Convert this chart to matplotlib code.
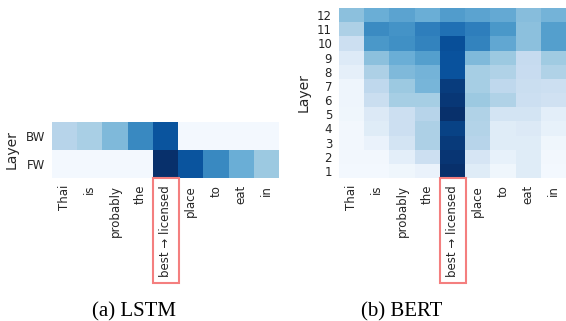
import numpy as np
import matplotlib.pyplot as plt

words = ['Thai', 'is', 'probably', 'the', 'best \u2192 licensed', 'place', 'to', 'eat', 'in']
lstm_rows = ['BW', 'FW']
lstm_vals = [
    [0.30, 0.34, 0.45, 0.66, 0.86, 0.02, 0.02, 0.02, 0.02],
    [0.02, 0.02, 0.02, 0.02, 1.00, 0.86, 0.66, 0.50, 0.38],
]
bert_rows = ['12', '11', '10', '9', '8', '7', '6', '5', '4', '3', '2', '1']
bert_vals = [
    [0.42, 0.50, 0.55, 0.50, 0.58, 0.55, 0.52, 0.43, 0.48],
    [0.33, 0.65, 0.62, 0.70, 0.75, 0.70, 0.60, 0.42, 0.57],
    [0.22, 0.60, 0.63, 0.68, 0.88, 0.68, 0.53, 0.42, 0.57],
    [0.13, 0.42, 0.50, 0.57, 0.87, 0.45, 0.38, 0.25, 0.37],
    [0.09, 0.33, 0.45, 0.48, 0.87, 0.35, 0.32, 0.24, 0.32],
    [0.05, 0.27, 0.38, 0.47, 0.95, 0.35, 0.27, 0.23, 0.22],
    [0.05, 0.23, 0.35, 0.35, 0.97, 0.38, 0.32, 0.22, 0.20],
    [0.04, 0.14, 0.22, 0.30, 1.00, 0.32, 0.18, 0.18, 0.10],
    [0.03, 0.12, 0.22, 0.33, 0.93, 0.31, 0.12, 0.14, 0.08],
    [0.03, 0.07, 0.18, 0.33, 0.96, 0.30, 0.12, 0.12, 0.04],
    [0.03, 0.03, 0.10, 0.22, 0.98, 0.17, 0.08, 0.12, 0.03],
    [0.02, 0.02, 0.04, 0.07, 1.00, 0.12, 0.04, 0.12, 0.02],
]
highlight = 4

fig = plt.figure(figsize=(5.66, 3.21), dpi=100)
ax1 = fig.add_axes([0.0919, 0.4455, 0.4011, 0.1745])
ax2 = fig.add_axes([0.599, 0.4455, 0.401, 0.5295])

def heat(ax, vals, rows):
    vals = np.array(vals)
    ax.pcolormesh(vals, cmap='Blues', vmin=0, vmax=1)
    ax.set_xlim(0, vals.shape[1])
    ax.set_ylim(vals.shape[0], 0)
    ax.set_xticks(np.arange(vals.shape[1]) + 0.5)
    ax.set_xticklabels(words, rotation=90, fontsize=8.5, color='#262626')
    ax.set_yticks(np.arange(vals.shape[0]) + 0.5)
    ax.set_yticklabels(rows, fontsize=8.5, color='#262626')
    ax.tick_params(length=0, pad=5)
    for s in ax.spines.values():
        s.set_visible(False)
    ax.set_ylabel('Layer', fontsize=10, color='#262626')
    lab = ax.get_xticklabels()[highlight]
    lab.set_bbox(dict(boxstyle='square,pad=0.55', fc='none', ec='#f47f7f', lw=1.5))

heat(ax1, lstm_vals, lstm_rows)
heat(ax2, bert_vals, bert_rows)
ax1.yaxis.labelpad = 5
ax2.yaxis.labelpad = 5

fig.text(0.237, 0.015, '(a) LSTM', fontsize=15, family='Liberation Serif', ha='center')
fig.text(0.71, 0.015, '(b) BERT', fontsize=15, family='Liberation Serif', ha='center')

fig.savefig('out.png', dpi=100)
